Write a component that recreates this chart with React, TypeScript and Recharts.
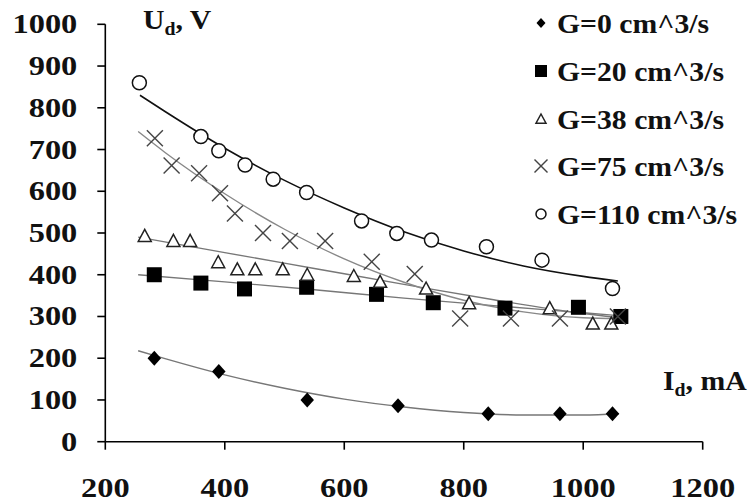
import React from 'react';
import { ComposedChart, XAxis, YAxis, Scatter, Line, Customized } from 'recharts';

// ---- data ----
const xTicks = [200, 400, 600, 800, 1000, 1200];
const yTicks = [0, 100, 200, 300, 400, 500, 600, 700, 800, 900, 1000];

const seriesNames = ['G=0 cm^3/s', 'G=20 cm^3/s', 'G=38 cm^3/s', 'G=75 cm^3/s', 'G=110 cm^3/s'];

const g0Pts = [[282, 200], [390, 168], [538, 100], [690, 86], [841, 67], [961, 67], [1049, 67]];
const g20Pts = [[282, 400], [360, 380], [433, 366], [537, 370], [654, 353], [749, 333], [869, 320], [992, 322], [1063, 300]];
const g38Pts = [[266, 493], [314, 481], [342, 481], [389, 430], [421, 413], [451, 413], [497, 413], [538, 400], [616, 397], [660, 383], [737, 367], [809, 332], [944, 320], [1016, 283], [1047, 283]];
const g75Pts = [[283, 727], [311, 662], [357, 643], [392, 595], [417, 547], [464, 500], [509, 481], [568, 481], [646, 431], [718, 402], [794, 295], [879, 295], [961, 295], [1058, 300]];
const g110Pts = [[257, 860], [360, 731], [390, 697], [434, 663], [481, 629], [537, 597], [629, 529], [688, 499], [746, 483], [838, 467], [931, 435], [1049, 367]];

// trend curves
const g0Trend = [[255, 218], [300, 199], [400, 160], [500, 128], [600, 102], [700, 83], [800, 70], [900, 64], [1000, 64], [1060, 67]];
const g20Trend = [[255, 400], [400, 383], [550, 364], [700, 344], [850, 326], [1000, 309], [1060, 302]];
const g38Trend = [[255, 490], [400, 453], [550, 415], [700, 377], [850, 340], [1000, 307], [1060, 297]];
const g75Trend = [[255, 743], [300, 693], [400, 594], [500, 509], [600, 438], [700, 382], [800, 339], [900, 311], [1000, 297], [1060, 295]];
const g110Trend = [[258, 830], [300, 791], [400, 703], [500, 626], [600, 560], [700, 503], [800, 457], [900, 421], [1000, 396], [1058, 385]];

const toObj = (arr: number[][]) => arr.map(([x, y]) => ({ x, y }));

// ---- styling ----
const FONT = 'Liberation Serif, Tinos, DejaVu Serif, serif';
const FS = 27;
const SX = 1.1;
const SX_TICK = 1.2;
const textProps = { fontFamily: FONT, fontWeight: 'bold', fontSize: FS, fill: '#111' };

const W = 753;
const H = 504;
const PLOT_LEFT = 105.3;
const PLOT_RIGHT = 702.7;
const PLOT_TOP = 24.3;
const PLOT_BOTTOM = 441.7;
const Y_AXIS_W = 100;
const X_AXIS_H = 60;

const YTick = (props: any) => {
  const { x, y, payload } = props;
  return (
    <text transform={`translate(${x},${y + 9}) scale(${SX_TICK},1)`} textAnchor="end" {...textProps} style={{ fontFamily: FONT }}>
      {payload.value}
    </text>
  );
};

const XTick = (props: any) => {
  const { x, y, payload } = props;
  return (
    <text transform={`translate(${x},${y + 47}) scale(${SX_TICK},1)`} textAnchor="middle" {...textProps} style={{ fontFamily: FONT }}>
      {payload.value}
    </text>
  );
};

const Diamond = ({ cx, cy, s = 7.5 }: any) => (
  <polygon points={`${cx},${cy - s} ${cx + s * 0.9},${cy} ${cx},${cy + s} ${cx - s * 0.9},${cy}`} fill="#000" />
);
const Square = ({ cx, cy, s = 7.5 }: any) => (
  <rect x={cx - s} y={cy - s} width={2 * s} height={2 * s} fill="#000" />
);
const Triangle = ({ cx, cy, s = 6.5 }: any) => (
  <polygon
    points={`${cx},${cy - s} ${cx + s},${cy + s * 0.85} ${cx - s},${cy + s * 0.85}`}
    fill="#fff"
    stroke="#222"
    strokeWidth={1.5}
  />
);
const Cross = ({ cx, cy, s = 8 }: any) => (
  <g stroke="#444" strokeWidth={1.4}>
    <line x1={cx - s} y1={cy - s} x2={cx + s} y2={cy + s} />
    <line x1={cx - s} y1={cy + s} x2={cx + s} y2={cy - s} />
  </g>
);
const Circle = ({ cx, cy, s = 7 }: any) => (
  <circle cx={cx} cy={cy} r={s} fill="#fff" stroke="#111" strokeWidth={1.5} />
);

const legendShapes = [
  (cx: number, cy: number) => <Diamond cx={cx} cy={cy} s={5} />,
  (cx: number, cy: number) => <Square cx={cx} cy={cy} s={6} />,
  (cx: number, cy: number) => <Triangle cx={cx} cy={cy} s={5} />,
  (cx: number, cy: number) => <Cross cx={cx} cy={cy} s={6.5} />,
  (cx: number, cy: number) => <Circle cx={cx} cy={cy} s={5} />,
];
const legendRowY = [23, 71, 119, 166, 214];

const Overlay = () => (
  <g>
    <text transform={`translate(143,29) scale(${SX},1)`} {...textProps} style={{ fontFamily: FONT }}>
      U<tspan fontSize={18} dy={6}>d</tspan>
      <tspan dy={-6}>, V</tspan>
    </text>
    <text transform={`translate(663,390) scale(${SX},1)`} {...textProps} style={{ fontFamily: FONT }}>
      I<tspan fontSize={18} dy={6}>d</tspan>
      <tspan dy={-6}>, mA</tspan>
    </text>
    {seriesNames.map((name, i) => (
      <g key={name}>
        {legendShapes[i](541, legendRowY[i])}
        <text transform={`translate(557,${legendRowY[i] + 9.5}) scale(${SX},1)`} {...textProps} style={{ fontFamily: FONT }}>
          {name}
        </text>
      </g>
    ))}
  </g>
);

const axisStroke = { stroke: '#000', strokeWidth: 1.6 };

export default function App() {
  return (
    <div style={{ position: 'absolute', left: 0, top: 0, width: W, height: H, background: '#fff', fontFamily: FONT }}>
      <ComposedChart
        width={W}
        height={H}
        margin={{
          top: PLOT_TOP,
          right: W - PLOT_RIGHT,
          left: PLOT_LEFT - Y_AXIS_W,
          bottom: H - PLOT_BOTTOM - X_AXIS_H,
        }}
      >
        <XAxis
          type="number"
          dataKey="x"
          domain={[200, 1200]}
          ticks={xTicks}
          allowDataOverflow
          height={X_AXIS_H}
          axisLine={axisStroke}
          tickLine={axisStroke}
          tickSize={8}
          tickMargin={0}
          tick={<XTick />}
          interval={0}
        />
        <YAxis
          type="number"
          dataKey="y"
          domain={[0, 1000]}
          ticks={yTicks}
          allowDataOverflow
          width={Y_AXIS_W}
          axisLine={axisStroke}
          tickLine={axisStroke}
          tickSize={8}
          tickMargin={20}
          tick={<YTick />}
          interval={0}
        />
        <Line data={toObj(g0Trend)} dataKey="y" type="monotone" stroke="#777" strokeWidth={1.4} dot={false} activeDot={false} isAnimationActive={false} />
        <Line data={toObj(g20Trend)} dataKey="y" type="monotone" stroke="#777" strokeWidth={1.4} dot={false} activeDot={false} isAnimationActive={false} />
        <Line data={toObj(g38Trend)} dataKey="y" type="monotone" stroke="#777" strokeWidth={1.4} dot={false} activeDot={false} isAnimationActive={false} />
        <Line data={toObj(g75Trend)} dataKey="y" type="monotone" stroke="#888" strokeWidth={1.4} dot={false} activeDot={false} isAnimationActive={false} />
        <Line data={toObj(g110Trend)} dataKey="y" type="monotone" stroke="#111" strokeWidth={1.6} dot={false} activeDot={false} isAnimationActive={false} />
        <Scatter data={toObj(g0Pts)} dataKey="y" shape={(p: any) => <Diamond cx={p.cx} cy={p.cy} />} isAnimationActive={false} />
        <Scatter data={toObj(g20Pts)} dataKey="y" shape={(p: any) => <Square cx={p.cx} cy={p.cy} />} isAnimationActive={false} />
        <Scatter data={toObj(g38Pts)} dataKey="y" shape={(p: any) => <Triangle cx={p.cx} cy={p.cy} />} isAnimationActive={false} />
        <Scatter data={toObj(g75Pts)} dataKey="y" shape={(p: any) => <Cross cx={p.cx} cy={p.cy} />} isAnimationActive={false} />
        <Scatter data={toObj(g110Pts)} dataKey="y" shape={(p: any) => <Circle cx={p.cx} cy={p.cy} />} isAnimationActive={false} />
        <Customized component={Overlay} />
      </ComposedChart>
    </div>
  );
}
